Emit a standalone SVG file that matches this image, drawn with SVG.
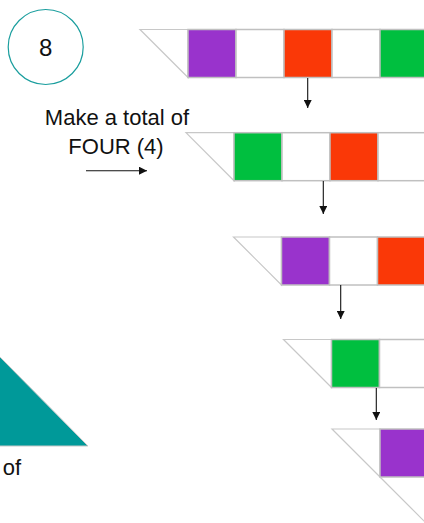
<svg xmlns="http://www.w3.org/2000/svg" width="424" height="523" viewBox="0 0 424 523">
<style>
.tri{fill:#fff;stroke:#c8c8c8;stroke-width:1.2}
.cell{stroke:#c0c0c0;stroke-width:1.5}
.p{fill:#9933cc}.r{fill:#fa3807}.g{fill:#00bf3f}.w{fill:#fff}
.t{font-family:"Liberation Sans",Arial,sans-serif;fill:#111}
.arr{stroke:#111;stroke-width:1.1;fill:none;marker-end:url(#ah)}
</style>
<defs>
<marker id="ah" markerUnits="userSpaceOnUse" markerWidth="8" markerHeight="8" refX="8" refY="4" orient="auto">
<path d="M0,0 L8,4 L0,8 Z" fill="#111"/>
</marker>
</defs>
<rect width="424" height="523" fill="#fff"/>

<g id="circle8">
<circle cx="45.7" cy="47" r="37.5" fill="#fff" stroke="#1a9e9e" stroke-width="1.2"/>
<text class="t" x="45.7" y="55.5" font-size="24" text-anchor="middle">8</text>
</g>

<g id="instruction">
<text class="t" x="117" y="125" font-size="22" text-anchor="middle">Make a total of</text>
<text class="t" x="116" y="154" font-size="22" text-anchor="middle">FOUR (4)</text>
</g>

<g id="teal-triangle">
<polygon points="-60,297 0,357 88,446 -60,446" fill="#009999" stroke="#c8c8c8" stroke-width="1"/>
<text class="t" x="21" y="475" font-size="22" text-anchor="end">of</text>
</g>

<g id="row1" transform="translate(140,29.5)">
<polygon class="tri" points="0,0 48,0 48,48"/>
<rect class="cell p" x="48" y="0" width="48" height="48"/>
<rect class="cell w" x="96" y="0" width="48" height="48"/>
<rect class="cell r" x="144" y="0" width="48" height="48"/>
<rect class="cell w" x="192" y="0" width="48" height="48"/>
<rect class="cell g" x="240" y="0" width="48" height="48"/>
</g>

<g id="row2" transform="translate(186,132.7)">
<polygon class="tri" points="0,0 48,0 48,48"/>
<rect class="cell g" x="48" y="0" width="48" height="48"/>
<rect class="cell w" x="96" y="0" width="48" height="48"/>
<rect class="cell r" x="144" y="0" width="48" height="48"/>
<rect class="cell w" x="192" y="0" width="48" height="48"/>
</g>

<g id="row3" transform="translate(233.5,237)">
<polygon class="tri" points="0,0 48,0 48,48"/>
<rect class="cell p" x="48" y="0" width="48" height="48"/>
<rect class="cell w" x="96" y="0" width="48" height="48"/>
<rect class="cell r" x="144" y="0" width="48" height="48"/>
</g>

<g id="row4" transform="translate(283.5,339.5)">
<polygon class="tri" points="0,0 48,0 48,48"/>
<rect class="cell g" x="48" y="0" width="48" height="48"/>
<rect class="cell w" x="96" y="0" width="48" height="48"/>
</g>

<g id="row5" transform="translate(332,429)">
<polygon class="tri" points="0,0 48,0 48,48"/>
<rect class="cell p" x="48" y="0" width="48" height="48"/>
</g>

<g id="row6">
<line x1="380" y1="477" x2="428" y2="525" stroke="#c8c8c8" stroke-width="1.2"/>
</g>

<g id="connectors">
<line class="arr" x1="86" y1="170.7" x2="147" y2="170.7"/>
<line class="arr" x1="307.7" y1="78" x2="307.7" y2="108"/>
<line class="arr" x1="323.3" y1="181" x2="323.3" y2="214"/>
<line class="arr" x1="340.7" y1="285" x2="340.7" y2="319"/>
<line class="arr" x1="376.3" y1="388" x2="376.3" y2="420"/>
</g>
</svg>
